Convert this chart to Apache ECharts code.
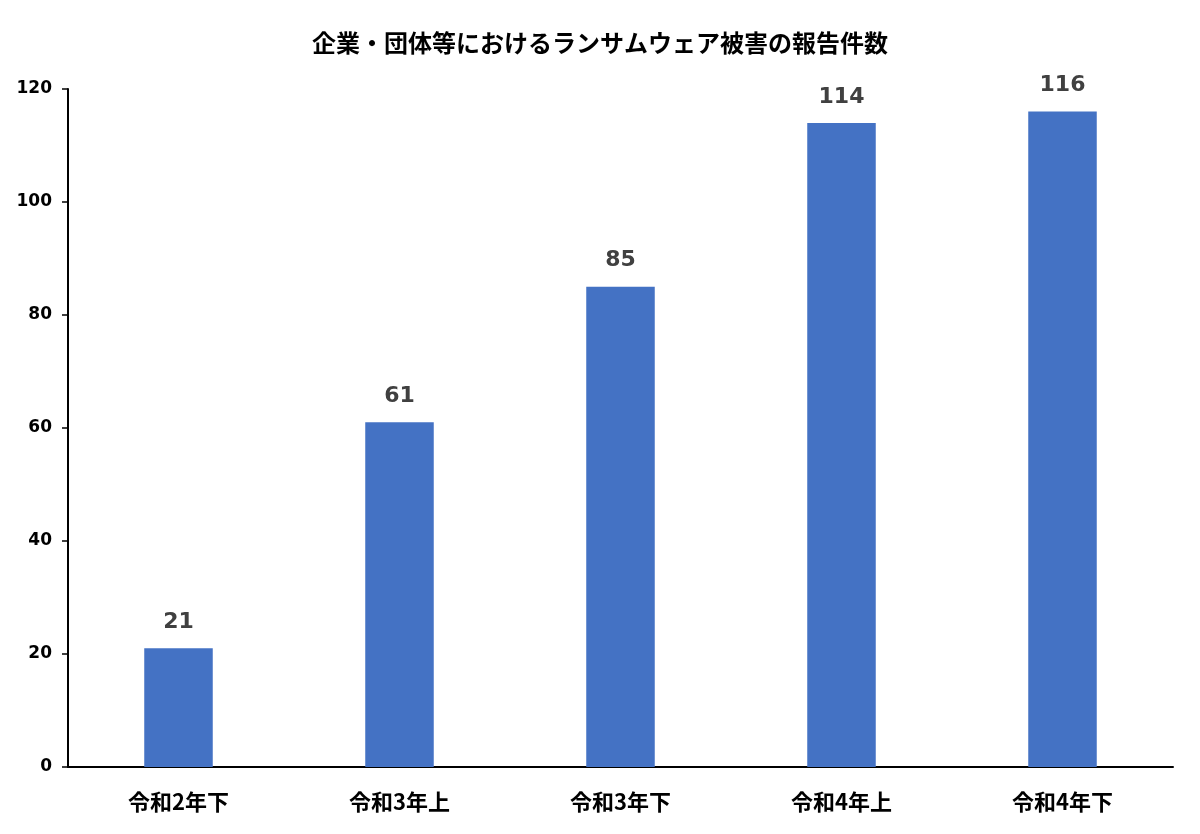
<!DOCTYPE html>
<html><head><meta charset="utf-8">
<script src="https://cdn.jsdelivr.net/npm/echarts@6/dist/echarts.min.js"></script>
<style>html,body{margin:0;padding:0;background:#fff}#c{width:1200px;height:834px}</style>
</head><body><div id="c"></div>
<script>
const titleText = '企業・団体等におけるランサムウェア被害の報告件数';
const categories = ['令和2年下', '令和3年上', '令和3年下', '令和4年上', '令和4年下'];
const reports = [21, 61, 85, 114, 116];
const yTicks = { min: 0, max: 120, interval: 20 };

const chart = echarts.init(document.getElementById('c'));
chart.setOption({
  backgroundColor: '#fff',
  animation: false,
  title: {
    text: titleText, left: 'center', top: 26,
    textStyle: { fontFamily: 'Noto Sans CJK JP', fontWeight: 'bold', fontSize: 24, color: '#000' }
  },
  grid: { left: 68, right: 27, top: 89, bottom: 67 },
  xAxis: {
    type: 'category', data: categories,
    axisLine: { lineStyle: { color: '#000', width: 2 } },
    axisTick: { show: false },
    axisLabel: { margin: 24, fontFamily: 'Noto Sans CJK JP', fontWeight: 'bold', fontSize: 22, color: '#000' }
  },
  yAxis: {
    type: 'value', min: yTicks.min, max: yTicks.max, interval: yTicks.interval,
    axisLine: { show: true, lineStyle: { color: '#000', width: 2 } },
    axisTick: { show: true, length: 6, lineStyle: { color: '#000', width: 1.5 } },
    splitLine: { show: false },
    axisLabel: { margin: 16, fontFamily: 'DejaVu Sans', fontWeight: 'bold', fontSize: 17, color: '#000' }
  },
  series: [{
    type: 'bar', data: reports, barWidth: '31%',
    itemStyle: { color: '#4472C4' },
    label: { show: true, position: 'top', distance: 15, fontFamily: 'DejaVu Sans', fontWeight: 'bold', fontSize: 22, color: '#404040' }
  }]
});
</script></body></html>
